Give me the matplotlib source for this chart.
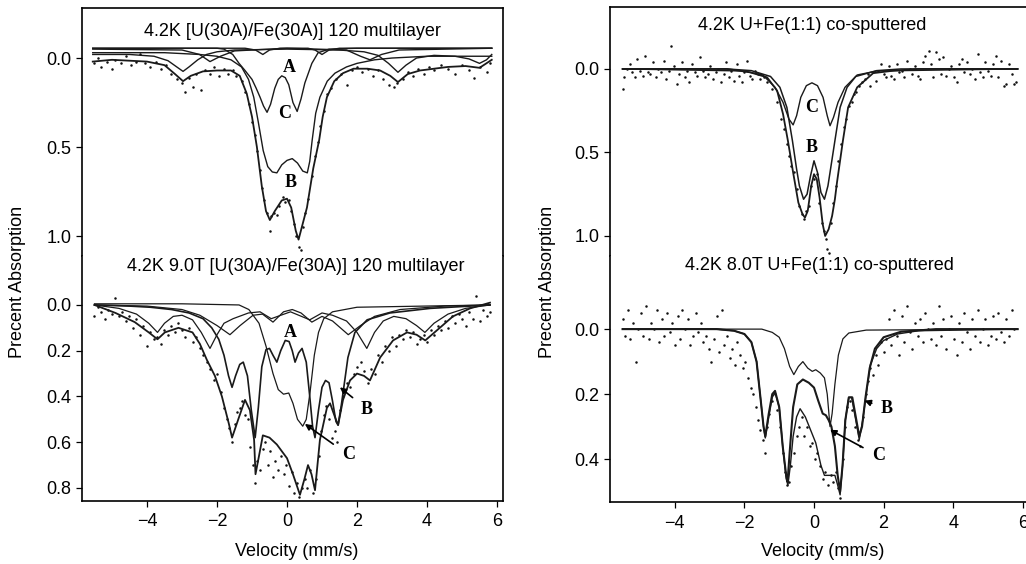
import matplotlib.pyplot as plt

plt.rcParams['font.family'] = ['Liberation Sans', 'DejaVu Sans']

# ---------- top left : 4.2K [U(30A)/Fe(30A)] 120 multilayer ----------
tl_total = [(-5.55, 0.02), (-5.0, 0.01), (-4.5, 0.015), (-4.0, 0.02), (-3.5, 0.04), (-3.2, 0.09),
            (-2.97, 0.13), (-2.75, 0.1), (-2.4, 0.075), (-2.0, 0.07), (-1.6, 0.07), (-1.35, 0.1),
            (-1.15, 0.2), (-1.0, 0.33), (-0.86, 0.5), (-0.72, 0.72), (-0.6, 0.86), (-0.49, 0.91),
            (-0.35, 0.86), (-0.15, 0.8), (0.0, 0.79), (0.12, 0.84), (0.25, 0.97), (0.33, 1.02),
            (0.45, 0.93), (0.57, 0.84), (0.75, 0.62), (0.92, 0.46), (1.02, 0.33), (1.14, 0.22),
            (1.35, 0.13), (1.6, 0.085), (1.9, 0.06), (2.3, 0.06), (2.66, 0.07), (2.95, 0.1),
            (3.17, 0.135), (3.45, 0.09), (3.8, 0.07), (4.6, 0.05), (5.1, 0.045), (5.5, 0.055),
            (5.85, 0.01)]
tl_b = [(-5.55, -0.03), (-3.5, -0.03), (-2.5, -0.02), (-2.0, -0.01), (-1.6, 0.01), (-1.3, 0.05),
        (-1.1, 0.12), (-0.95, 0.22), (-0.82, 0.36), (-0.68, 0.52), (-0.55, 0.61), (-0.42, 0.64),
        (-0.29, 0.645), (-0.15, 0.6), (0.0, 0.575), (0.15, 0.565), (0.3, 0.59), (0.45, 0.635),
        (0.58, 0.645), (0.65, 0.58), (0.72, 0.46), (0.82, 0.31), (0.94, 0.22), (1.15, 0.13),
        (1.37, 0.085), (1.7, 0.05), (2.0, 0.03), (2.5, 0.01), (3.0, 0.0), (4.0, -0.01), (5.85, -0.01)]
tl_c = [(-5.55, -0.055), (-2.0, -0.055), (-1.8, -0.05), (-1.55, -0.02), (-1.37, 0.03), (-1.2, 0.07),
        (-1.0, 0.12), (-0.88, 0.17), (-0.77, 0.22), (-0.67, 0.27), (-0.57, 0.305), (-0.47, 0.26),
        (-0.35, 0.17), (-0.25, 0.12), (-0.15, 0.1), (-0.05, 0.11), (0.05, 0.15), (0.17, 0.25),
        (0.29, 0.3), (0.4, 0.23), (0.51, 0.14), (0.71, 0.03), (0.89, -0.03), (1.2, -0.05),
        (2.0, -0.055), (5.85, -0.055)]
tl_a = [(-5.55, -0.055), (-1.2, -0.055), (-0.9, -0.045), (-0.69, -0.02), (-0.5, -0.045),
        (-0.2, -0.055), (0.6, -0.055), (0.8, -0.045), (1.0, -0.02), (1.2, -0.045), (1.5, -0.055),
        (5.85, -0.055)]
tl_s1 = [(-5.55, -0.02), (-4.5, -0.02), (-3.8, -0.01), (-3.4, 0.015), (-3.15, 0.05), (-2.97, 0.075),
         (-2.8, 0.05), (-2.55, 0.01), (-2.3, -0.02), (-2.0, -0.035), (-1.5, -0.045), (0.0, -0.05),
         (1.5, -0.045), (2.2, -0.035), (2.6, -0.015), (2.9, 0.03), (3.17, 0.08), (3.4, 0.04),
         (3.7, 0.0), (4.2, -0.015), (4.8, -0.01), (5.2, 0.005), (5.5, 0.03), (5.7, 0.01), (5.85, -0.02)]
tl_s2 = [(-5.55, -0.05), (-3.0, -0.045), (-2.5, -0.02), (-2.2, 0.02), (-1.9, -0.01), (-1.5, -0.04),
         (0.0, -0.055), (1.7, -0.045), (2.1, -0.01), (2.37, 0.01), (2.7, -0.02), (3.2, -0.045),
         (5.85, -0.055)]
tl_dots = [(-5.5, 0.03), (-5.4, 0.0), (-5.3, 0.05), (-5.15, 0.02), (-5.0, 0.06), (-4.9, 0.01),
           (-4.75, 0.03), (-4.6, -0.01), (-4.45, 0.04), (-4.3, 0.02), (-4.2, -0.02), (-4.05, 0.03),
           (-3.9, 0.05), (-3.75, 0.02), (-3.6, 0.06), (-3.45, 0.04), (-3.3, 0.09), (-3.15, 0.12),
           (-3.0, 0.14), (-2.9, 0.19), (-2.8, 0.11), (-2.7, 0.16), (-2.6, 0.09), (-2.45, 0.18),
           (-2.35, 0.07), (-2.2, 0.09), (-2.1, 0.05), (-1.95, 0.1), (-1.8, 0.06), (-1.7, 0.09),
           (-1.55, 0.07), (-1.45, 0.1), (-1.3, 0.13), (-1.2, 0.19), (-1.1, 0.26), (-1.0, 0.36),
           (-0.92, 0.43), (-0.85, 0.52), (-0.78, 0.63), (-0.72, 0.73), (-0.65, 0.8), (-0.58, 0.87),
           (-0.5, 0.97), (-0.45, 0.89), (-0.38, 0.87), (-0.3, 0.88), (-0.22, 0.83), (-0.12, 0.78),
           (-0.05, 0.81), (0.05, 0.8), (0.12, 0.86), (0.2, 0.93), (0.27, 1.0), (0.33, 1.06),
           (0.4, 1.08), (0.45, 0.95), (0.52, 0.87), (0.6, 0.79), (0.7, 0.66), (0.8, 0.55),
           (0.88, 0.47), (0.95, 0.38), (1.05, 0.3), (1.15, 0.2), (1.25, 0.17), (1.4, 0.12),
           (1.55, 0.09), (1.7, 0.15), (1.85, 0.07), (2.0, 0.05), (2.15, 0.08), (2.3, 0.06),
           (2.45, 0.1), (2.6, 0.07), (2.75, 0.12), (2.9, 0.15), (3.05, 0.16), (3.15, 0.14),
           (3.3, 0.12), (3.45, 0.08), (3.6, 0.1), (3.75, 0.06), (3.9, 0.09), (4.05, 0.05),
           (4.2, 0.07), (4.4, 0.04), (4.6, 0.06), (4.8, 0.09), (5.0, 0.04), (5.2, 0.07),
           (5.35, 0.11), (5.5, 0.05), (5.7, 0.08), (5.8, 0.03)]

# ---------- bottom left : 4.2K 9.0T multilayer ----------
bl_total = [(-5.5, 0.0), (-4.9, 0.035), (-4.35, 0.075), (-3.95, 0.12), (-3.7, 0.15), (-3.49, 0.12),
            (-3.1, 0.1), (-2.7, 0.12), (-2.49, 0.17), (-2.29, 0.24), (-2.06, 0.31), (-1.86, 0.4),
            (-1.66, 0.52), (-1.57, 0.58), (-1.37, 0.49), (-1.2, 0.415), (-1.06, 0.46), (-0.94, 0.59),
            (-0.9, 0.74), (-0.8, 0.66), (-0.69, 0.57), (-0.5, 0.58), (-0.29, 0.61), (0.0, 0.67),
            (0.17, 0.74), (0.37, 0.83), (0.5, 0.76), (0.6, 0.7), (0.7, 0.74), (0.8, 0.81),
            (0.94, 0.59), (1.14, 0.45), (1.23, 0.43), (1.37, 0.49), (1.46, 0.525), (1.6, 0.415),
            (1.8, 0.33), (2.0, 0.3), (2.2, 0.31), (2.37, 0.33), (2.66, 0.23), (3.03, 0.155),
            (3.43, 0.12), (3.7, 0.13), (3.95, 0.155), (4.29, 0.11), (4.74, 0.05), (5.23, 0.015),
            (5.8, -0.01)]
bl_b = [(-5.5, 0.0), (-4.5, 0.005), (-3.9, 0.01), (-3.3, 0.02), (-2.8, 0.035), (-2.4, 0.06),
        (-2.15, 0.1), (-1.95, 0.15), (-1.8, 0.22), (-1.67, 0.31), (-1.57, 0.36), (-1.47, 0.31),
        (-1.35, 0.26), (-1.25, 0.25), (-1.13, 0.31), (-1.02, 0.46), (-0.91, 0.58), (-0.82, 0.45),
        (-0.72, 0.27), (-0.6, 0.195), (-0.5, 0.19), (-0.4, 0.22), (-0.29, 0.25), (-0.18, 0.2),
        (-0.05, 0.155), (0.06, 0.16), (0.15, 0.2), (0.23, 0.25), (0.33, 0.21), (0.43, 0.19),
        (0.55, 0.25), (0.65, 0.4), (0.73, 0.53), (0.8, 0.58), (0.9, 0.46), (1.0, 0.36), (1.1, 0.33),
        (1.2, 0.34), (1.3, 0.42), (1.4, 0.51), (1.46, 0.525), (1.55, 0.44), (1.65, 0.33),
        (1.74, 0.23), (1.94, 0.12), (2.29, 0.065), (2.94, 0.035), (4.09, 0.015), (5.8, 0.0)]
bl_c = [(-5.5, -0.005), (-3.0, -0.005), (-1.37, 0.0), (-1.09, 0.02), (-0.8, 0.08), (-0.6, 0.18),
        (-0.4, 0.3), (-0.25, 0.37), (-0.1, 0.39), (0.05, 0.385), (0.17, 0.43), (0.3, 0.5),
        (0.45, 0.53), (0.55, 0.5), (0.66, 0.38), (0.78, 0.22), (0.9, 0.12), (1.05, 0.06),
        (1.3, 0.03), (2.0, 0.01), (5.8, 0.0)]
bl_d = [(-5.5, 0.0), (-4.8, 0.015), (-4.3, 0.04), (-3.95, 0.08), (-3.7, 0.12), (-3.5, 0.08),
        (-3.25, 0.05), (-3.0, 0.045), (-2.7, 0.065), (-2.45, 0.12), (-2.2, 0.19), (-2.0, 0.13),
        (-1.8, 0.08), (-1.54, 0.06), (-1.1, 0.035), (-0.77, 0.03), (-0.45, 0.06), (0.1, 0.03),
        (0.65, 0.065), (1.0, 0.035), (1.3, 0.045), (1.7, 0.07), (2.0, 0.12), (2.28, 0.19),
        (2.5, 0.12), (2.75, 0.07), (3.05, 0.05), (3.4, 0.06), (3.7, 0.09), (3.94, 0.12),
        (4.2, 0.08), (4.6, 0.04), (5.1, 0.015), (5.8, 0.0)]
bl_a = [(-5.5, 0.0), (-4.0, 0.005), (-3.0, 0.02), (-2.49, 0.045), (-2.0, 0.09), (-1.63, 0.13),
        (-1.34, 0.09), (-0.97, 0.045), (-0.7, 0.04), (-0.4, 0.075), (-0.1, 0.03), (0.15, 0.02),
        (0.4, 0.035), (0.71, 0.075), (1.0, 0.05), (1.3, 0.07), (1.75, 0.13), (2.1, 0.09),
        (2.5, 0.05), (3.23, 0.02), (4.5, 0.005), (5.8, 0.0)]
bl_dots = [(-5.5, 0.05), (-5.4, 0.01), (-5.3, 0.03), (-5.2, 0.06), (-5.1, 0.02), (-5.0, 0.04),
           (-4.9, -0.03), (-4.8, 0.05), (-4.7, 0.03), (-4.6, 0.07), (-4.5, 0.05), (-4.4, 0.1),
           (-4.3, 0.06), (-4.2, 0.13), (-4.1, 0.09), (-4.0, 0.18), (-3.9, 0.12), (-3.8, 0.15),
           (-3.7, 0.14), (-3.6, 0.17), (-3.5, 0.11), (-3.4, 0.13), (-3.3, 0.09), (-3.2, 0.12),
           (-3.1, 0.08), (-3.0, 0.11), (-2.9, 0.14), (-2.8, 0.1), (-2.7, 0.16), (-2.6, 0.14),
           (-2.5, 0.19), (-2.4, 0.22), (-2.3, 0.25), (-2.2, 0.28), (-2.1, 0.33), (-2.0, 0.3),
           (-1.9, 0.38), (-1.8, 0.45), (-1.72, 0.5), (-1.65, 0.54), (-1.57, 0.6), (-1.5, 0.52),
           (-1.42, 0.47), (-1.35, 0.45), (-1.28, 0.42), (-1.2, 0.48), (-1.12, 0.5), (-1.05, 0.62),
           (-0.98, 0.7), (-0.92, 0.78), (-0.85, 0.68), (-0.78, 0.72), (-0.7, 0.63), (-0.62, 0.6),
           (-0.55, 0.7), (-0.48, 0.64), (-0.4, 0.75), (-0.33, 0.68), (-0.25, 0.72), (-0.18, 0.66),
           (-0.1, 0.74), (-0.02, 0.7), (0.06, 0.79), (0.14, 0.73), (0.2, 0.82), (0.28, 0.78),
           (0.35, 0.84), (0.42, 0.8), (0.5, 0.76), (0.58, 0.8), (0.66, 0.72), (0.74, 0.82),
           (0.82, 0.76), (0.9, 0.66), (0.98, 0.55), (1.05, 0.48), (1.12, 0.44), (1.2, 0.5),
           (1.28, 0.58), (1.36, 0.55), (1.44, 0.6), (1.52, 0.46), (1.6, 0.4), (1.7, 0.34),
           (1.8, 0.36), (1.9, 0.3), (2.0, 0.27), (2.1, 0.25), (2.2, 0.29), (2.3, 0.34), (2.4, 0.28),
           (2.5, 0.3), (2.6, 0.22), (2.7, 0.25), (2.8, 0.18), (2.9, 0.2), (3.0, 0.14), (3.1, 0.18),
           (3.2, 0.13), (3.3, 0.15), (3.4, 0.11), (3.5, 0.14), (3.6, 0.12), (3.7, 0.17), (3.8, 0.15),
           (3.9, 0.13), (4.0, 0.16), (4.1, 0.11), (4.2, 0.13), (4.3, 0.09), (4.4, 0.11), (4.5, 0.07),
           (4.6, 0.1), (4.7, 0.05), (4.8, 0.08), (4.9, 0.04), (5.0, 0.06), (5.1, 0.09), (5.2, 0.03),
           (5.3, 0.06), (5.4, -0.04), (5.5, 0.07), (5.6, 0.02), (5.7, 0.05), (5.8, 0.03)]

# ---------- top right : 4.2K U+Fe(1:1) co-sputtered ----------
tr_total = [(-5.5, 0.0), (-2.5, 0.0), (-1.84, 0.02), (-1.35, 0.05), (-1.06, 0.13), (-0.89, 0.27),
            (-0.75, 0.43), (-0.6, 0.62), (-0.45, 0.8), (-0.33, 0.87), (-0.26, 0.89), (-0.18, 0.85),
            (-0.08, 0.7), (0.0, 0.63), (0.08, 0.66), (0.16, 0.77), (0.25, 0.93), (0.32, 1.0),
            (0.42, 0.96), (0.52, 0.88), (0.6, 0.78), (0.66, 0.68), (0.83, 0.43), (0.98, 0.23),
            (1.24, 0.11), (1.7, 0.025), (2.3, 0.01), (3.0, 0.0), (5.85, 0.0)]
tr_b = [(-5.5, 0.0), (-2.5, 0.0), (-1.8, 0.01), (-1.25, 0.045), (-0.98, 0.11), (-0.78, 0.23),
        (-0.62, 0.43), (-0.5, 0.6), (-0.42, 0.7), (-0.3, 0.78), (-0.2, 0.75), (-0.1, 0.64),
        (0.0, 0.55), (0.1, 0.62), (0.2, 0.74), (0.3, 0.78), (0.4, 0.7), (0.46, 0.62), (0.6, 0.43),
        (0.75, 0.23), (0.95, 0.11), (1.2, 0.045), (1.8, 0.01), (2.5, 0.0), (5.85, 0.0)]
tr_c = [(-5.5, 0.0), (-2.04, 0.012), (-1.47, 0.036), (-1.12, 0.11), (-0.89, 0.2), (-0.72, 0.3),
        (-0.6, 0.335), (-0.5, 0.28), (-0.38, 0.17), (-0.22, 0.1), (-0.06, 0.083), (0.1, 0.1),
        (0.26, 0.17), (0.38, 0.28), (0.46, 0.34), (0.56, 0.29), (0.69, 0.2), (0.89, 0.11),
        (1.24, 0.036), (1.81, 0.012), (5.85, 0.0)]
tr_dots = [(-5.5, 0.12), (-5.45, 0.05), (-5.38, 0.0), (-5.3, -0.03), (-5.22, 0.02), (-5.15, 0.05),
           (-5.08, -0.06), (-5.0, 0.01), (-4.92, 0.04), (-4.85, -0.08), (-4.78, 0.02), (-4.7, 0.03),
           (-4.62, -0.04), (-4.55, 0.05), (-4.48, 0.0), (-4.4, 0.02), (-4.32, -0.05), (-4.25, 0.06),
           (-4.18, 0.01), (-4.1, -0.14), (-4.02, -0.02), (-3.95, 0.09), (-3.88, 0.03), (-3.8, -0.04),
           (-3.72, 0.05), (-3.65, 0.01), (-3.58, 0.08), (-3.5, -0.03), (-3.42, 0.02), (-3.35, 0.04),
           (-3.28, -0.07), (-3.2, 0.01), (-3.12, 0.05), (-3.05, 0.03), (-2.98, -0.02), (-2.9, 0.06),
           (-2.82, 0.02), (-2.75, 0.0), (-2.68, 0.08), (-2.6, 0.03), (-2.52, -0.04), (-2.45, 0.05),
           (-2.38, 0.01), (-2.3, 0.07), (-2.22, -0.03), (-2.15, 0.04), (-2.08, 0.08), (-2.0, 0.02),
           (-1.92, -0.05), (-1.85, 0.04), (-1.78, 0.06), (-1.7, 0.01), (-1.62, 0.03), (-1.55, 0.06),
           (-1.45, 0.05), (-1.35, 0.08), (-1.2, 0.12), (-1.05, 0.2), (-0.95, 0.3), (-0.85, 0.36),
           (-0.78, 0.45), (-0.72, 0.52), (-0.65, 0.58), (-0.58, 0.62), (-0.5, 0.72), (-0.42, 0.82),
           (-0.35, 0.87), (-0.28, 0.9), (-0.22, 0.85), (-0.15, 0.82), (-0.08, 0.7), (0.0, 0.66),
           (0.08, 0.63), (0.15, 0.8), (0.22, 0.92), (0.28, 0.97), (0.35, 1.02), (0.38, 1.08),
           (0.42, 1.1), (0.48, 0.92), (0.55, 0.8), (0.62, 0.7), (0.7, 0.55), (0.78, 0.45),
           (0.85, 0.35), (0.92, 0.3), (1.0, 0.22), (1.08, 0.2), (1.15, 0.15), (1.22, 0.14),
           (1.3, 0.1), (1.38, 0.08), (1.46, 0.06), (1.55, 0.03), (1.62, 0.1), (1.7, 0.02),
           (1.78, 0.07), (1.85, 0.01), (1.92, -0.03), (2.0, 0.03), (2.08, 0.05), (2.15, -0.02),
           (2.22, 0.04), (2.3, 0.06), (2.38, -0.03), (2.45, 0.02), (2.52, 0.01), (2.6, 0.05),
           (2.68, -0.05), (2.75, 0.0), (2.82, 0.03), (2.9, -0.02), (2.98, 0.04), (3.05, 0.06),
           (3.12, -0.04), (3.2, -0.08), (3.3, -0.11), (3.35, -0.03), (3.42, 0.05), (3.5, -0.1),
           (3.58, -0.06), (3.65, 0.03), (3.72, -0.07), (3.8, 0.04), (3.88, 0.0), (3.95, -0.02),
           (4.02, 0.05), (4.1, 0.08), (4.18, -0.03), (4.25, -0.06), (4.32, 0.02), (4.4, -0.04),
           (4.48, 0.03), (4.55, 0.0), (4.62, 0.06), (4.7, -0.09), (4.78, 0.02), (4.85, 0.05),
           (4.92, -0.04), (5.0, 0.01), (5.08, 0.04), (5.15, -0.03), (5.22, -0.08), (5.3, 0.05),
           (5.38, -0.05), (5.45, 0.1), (5.52, 0.09), (5.6, -0.03), (5.68, 0.03), (5.75, 0.09),
           (5.8, 0.08)]

# ---------- bottom right : 4.2K 8.0T U+Fe(1:1) co-sputtered ----------
br_total = [(-5.5, 0.0), (-2.8, 0.0), (-2.3, 0.005), (-2.0, 0.015), (-1.8, 0.04), (-1.65, 0.1),
            (-1.55, 0.2), (-1.45, 0.3), (-1.4, 0.335), (-1.3, 0.27), (-1.2, 0.21), (-1.12, 0.195),
            (-1.0, 0.24), (-0.9, 0.36), (-0.8, 0.46), (-0.75, 0.48), (-0.68, 0.42), (-0.6, 0.33),
            (-0.5, 0.27), (-0.4, 0.245), (-0.25, 0.27), (-0.1, 0.31), (0.05, 0.35), (0.2, 0.42),
            (0.3, 0.45), (0.45, 0.45), (0.6, 0.45), (0.68, 0.48), (0.75, 0.51), (0.82, 0.42),
            (0.9, 0.28), (1.0, 0.21), (1.08, 0.21), (1.2, 0.28), (1.3, 0.34), (1.4, 0.28),
            (1.5, 0.2), (1.62, 0.11), (1.8, 0.06), (2.0, 0.035), (2.4, 0.015), (3.0, 0.005),
            (5.85, 0.0)]
br_b = [(-5.5, 0.0), (-2.8, 0.0), (-2.3, 0.005), (-2.0, 0.015), (-1.8, 0.04), (-1.65, 0.1),
        (-1.55, 0.2), (-1.45, 0.3), (-1.4, 0.33), (-1.3, 0.26), (-1.2, 0.2), (-1.12, 0.19),
        (-1.0, 0.24), (-0.9, 0.36), (-0.8, 0.45), (-0.76, 0.47), (-0.7, 0.38), (-0.6, 0.24),
        (-0.48, 0.17), (-0.32, 0.155), (-0.15, 0.165), (0.0, 0.18), (0.12, 0.22), (0.25, 0.26),
        (0.34, 0.265), (0.42, 0.28), (0.5, 0.3), (0.6, 0.36), (0.68, 0.45), (0.75, 0.5),
        (0.82, 0.42), (0.9, 0.28), (1.0, 0.21), (1.1, 0.21), (1.2, 0.27), (1.3, 0.33), (1.38, 0.3),
        (1.48, 0.21), (1.6, 0.12), (1.75, 0.06), (2.0, 0.025), (2.5, 0.008), (3.5, 0.0), (5.85, 0.0)]
br_c = [(-5.5, 0.0), (-1.5, 0.0), (-1.2, 0.01), (-1.0, 0.025), (-0.85, 0.06), (-0.7, 0.115),
        (-0.58, 0.14), (-0.45, 0.115), (-0.32, 0.1), (-0.18, 0.12), (-0.05, 0.13), (0.05, 0.125),
        (0.18, 0.135), (0.3, 0.15), (0.38, 0.2), (0.46, 0.3), (0.52, 0.26), (0.6, 0.17),
        (0.7, 0.08), (0.83, 0.03), (1.0, 0.012), (1.5, 0.003), (5.85, 0.0)]
br_dots = [(-5.5, -0.03), (-5.42, 0.02), (-5.35, -0.06), (-5.28, 0.03), (-5.2, -0.02), (-5.12, 0.1),
           (-5.05, 0.0), (-4.98, -0.05), (-4.9, 0.02), (-4.82, -0.07), (-4.75, 0.03), (-4.68, -0.02),
           (-4.6, 0.0), (-4.52, -0.06), (-4.45, 0.04), (-4.38, -0.03), (-4.3, 0.02), (-4.22, -0.05),
           (-4.15, 0.01), (-4.08, -0.02), (-4.0, 0.05), (-3.92, -0.04), (-3.85, 0.03), (-3.78, -0.06),
           (-3.7, 0.0), (-3.62, -0.03), (-3.55, 0.05), (-3.48, 0.02), (-3.4, -0.05), (-3.32, 0.01),
           (-3.25, -0.02), (-3.18, 0.04), (-3.1, 0.02), (-3.02, 0.06), (-2.95, 0.1), (-2.88, 0.03),
           (-2.8, -0.04), (-2.72, 0.07), (-2.65, -0.06), (-2.58, 0.05), (-2.5, 0.02), (-2.42, 0.09),
           (-2.35, 0.06), (-2.28, 0.11), (-2.2, 0.04), (-2.12, 0.08), (-2.05, 0.12), (-1.98, 0.1),
           (-1.9, 0.15), (-1.82, 0.18), (-1.75, 0.2), (-1.68, 0.24), (-1.6, 0.28), (-1.55, 0.31),
           (-1.48, 0.34), (-1.42, 0.38), (-1.35, 0.3), (-1.28, 0.26), (-1.2, 0.22), (-1.12, 0.2),
           (-1.05, 0.25), (-0.98, 0.3), (-0.9, 0.38), (-0.84, 0.44), (-0.78, 0.48), (-0.72, 0.47),
           (-0.65, 0.42), (-0.58, 0.38), (-0.5, 0.33), (-0.42, 0.3), (-0.35, 0.27), (-0.28, 0.33),
           (-0.2, 0.3), (-0.12, 0.36), (-0.05, 0.35), (0.02, 0.4), (0.1, 0.38), (0.18, 0.42),
           (0.25, 0.46), (0.32, 0.44), (0.4, 0.48), (0.48, 0.45), (0.55, 0.47), (0.62, 0.44),
           (0.68, 0.49), (0.75, 0.52), (0.82, 0.4), (0.9, 0.3), (0.96, 0.24), (1.02, 0.22),
           (1.1, 0.25), (1.18, 0.3), (1.25, 0.34), (1.32, 0.36), (1.4, 0.27), (1.48, 0.2),
           (1.55, 0.16), (1.62, 0.12), (1.7, 0.14), (1.78, 0.08), (1.85, 0.11), (1.92, 0.04),
           (2.0, 0.07), (2.08, 0.03), (2.15, -0.03), (2.22, 0.05), (2.3, -0.06), (2.38, 0.02),
           (2.45, 0.08), (2.52, -0.04), (2.6, 0.04), (2.68, -0.07), (2.75, 0.01), (2.82, 0.06),
           (2.9, -0.02), (2.98, 0.02), (3.05, -0.03), (3.12, 0.04), (3.2, -0.05), (3.28, 0.0),
           (3.35, 0.03), (3.42, -0.02), (3.5, 0.05), (3.58, -0.07), (3.65, 0.02), (3.72, -0.03),
           (3.8, 0.06), (3.88, 0.0), (3.95, -0.04), (4.02, 0.03), (4.1, 0.08), (4.18, -0.02),
           (4.25, 0.04), (4.32, -0.05), (4.4, 0.01), (4.48, 0.06), (4.55, -0.03), (4.62, 0.02),
           (4.7, -0.06), (4.78, 0.04), (4.85, 0.0), (4.92, -0.03), (5.0, 0.05), (5.08, 0.02),
           (5.15, -0.04), (5.22, 0.03), (5.3, -0.05), (5.38, 0.01), (5.45, 0.04), (5.52, -0.03),
           (5.6, 0.02), (5.68, -0.06), (5.75, 0.0)]

W, H = 1026, 564
FS = 13
LBL = dict(family='Liberation Serif', fontweight='bold', fontsize=13)
ARROW = dict(arrowstyle='-|>', color='k', lw=1.2, mutation_scale=9, shrinkA=5, shrinkB=0)


def px_axes(fig, x0, x1, y0, y1):
    return fig.add_axes([x0 / W, 1 - y1 / H, (x1 - x0) / W, (y1 - y0) / H])


def curve(ax, pts, lw=1.1):
    xs, ys = zip(*pts)
    ax.plot(xs, ys, color='#1a1a1a', lw=lw, solid_joinstyle='round')


def dots(ax, pts):
    xs, ys = zip(*pts)
    ax.plot(xs, ys, 'o', ms=1.8, mec='none', mfc='#111111')


def style(ax, xlim, ylim, yticks, part):
    ax.set_xlim(*xlim)
    ax.set_ylim(*ylim)
    ax.set_yticks(yticks)
    ax.set_yticklabels(['%.1f' % t for t in yticks])
    ax.tick_params(direction='out', length=4, width=0.9, labelsize=FS, right=False, top=False)
    ax.tick_params(axis='x', pad=5)
    for s in ax.spines.values():
        s.set_linewidth(1.2)
    if part == 'top':
        ax.spines['bottom'].set_visible(False)
        ax.set_xticks([])
    else:
        ax.spines['top'].set_visible(False)
        ax.set_xticks([-4, -2, 0, 2, 4, 6])


fig = plt.figure(figsize=(W / 100, H / 100), dpi=100)

# left panel
ax1 = px_axes(fig, 82, 503, 8, 256)
style(ax1, (-5.857, 6.171), (1.112, -0.281), [0.0, 0.5, 1.0], 'top')
dots(ax1, tl_dots)
for c in (tl_a, tl_s1, tl_s2, tl_c, tl_b):
    curve(ax1, c, 1.0)
curve(ax1, tl_total, 1.3)
ax1.text(0.07, 0.055, 'A', ha='center', va='center', **LBL)
ax1.text(-0.06, 0.31, 'C', ha='center', va='center', **LBL)
ax1.text(0.09, 0.70, 'B', ha='center', va='center', **LBL)

ax2 = px_axes(fig, 82, 503, 256, 501)
style(ax2, (-5.857, 6.171), (0.857, -0.214), [0.0, 0.2, 0.4, 0.6, 0.8], 'bottom')
dots(ax2, bl_dots)
for c in (bl_c, bl_a, bl_d):
    curve(ax2, c, 0.9)
curve(ax2, bl_b, 1.2)
curve(ax2, bl_total, 1.3)
ax2.text(0.09, 0.12, 'A', ha='center', va='center', **LBL)
ax2.annotate('B', xy=(1.51, 0.36), xytext=(2.28, 0.455), ha='center', va='center',
             arrowprops=ARROW, **LBL)
ax2.annotate('C', xy=(0.51, 0.52), xytext=(1.75, 0.655), ha='center', va='center',
             arrowprops=ARROW, **LBL)

# right panel
ax3 = px_axes(fig, 610, 1027, 7, 256)
style(ax3, (-5.862, 6.12), (1.12, -0.371), [0.0, 0.5, 1.0], 'top')
dots(ax3, tr_dots)
curve(ax3, tr_c, 1.0)
curve(ax3, tr_b, 1.1)
curve(ax3, tr_total, 1.3)
ax3.text(-0.08, 0.23, 'C', ha='center', va='center', **LBL)
ax3.text(-0.08, 0.47, 'B', ha='center', va='center', **LBL)

ax4 = px_axes(fig, 610, 1027, 256, 502)
style(ax4, (-5.862, 6.12), (0.532, -0.225), [0.0, 0.2, 0.4], 'bottom')
dots(ax4, br_dots)
curve(ax4, br_c, 0.9)
curve(ax4, br_total, 1.0)
curve(ax4, br_b, 1.5)
ax4.annotate('B', xy=(1.45, 0.22), xytext=(2.1, 0.245), ha='center', va='center',
             arrowprops=ARROW, **LBL)
ax4.annotate('C', xy=(0.46, 0.31), xytext=(1.85, 0.39), ha='center', va='center',
             arrowprops=ARROW, **LBL)

# titles and axis labels
fig.text(292 / W, 1 - 31 / H, '4.2K [U(30A)/Fe(30A)] 120 multilayer', ha='center', va='center', fontsize=FS)
fig.text(296 / W, 1 - 267 / H, '4.2K 9.0T [U(30A)/Fe(30A)] 120 multilayer', ha='center', va='center', fontsize=FS)
fig.text(812 / W, 1 - 25 / H, '4.2K U+Fe(1:1) co-sputtered', ha='center', va='center', fontsize=FS)
fig.text(819 / W, 1 - 265 / H, '4.2K 8.0T U+Fe(1:1) co-sputtered', ha='center', va='center', fontsize=FS)
fig.text(18 / W, 0.5, 'Precent Absorption', rotation=90, ha='center', va='center', fontsize=FS)
fig.text(548 / W, 0.5, 'Precent Absorption', rotation=90, ha='center', va='center', fontsize=FS)
fig.text(297 / W, 1 - 552 / H, 'Velocity (mm/s)', ha='center', va='center', fontsize=FS)
fig.text(823 / W, 1 - 552 / H, 'Velocity (mm/s)', ha='center', va='center', fontsize=FS)

fig.savefig('out.png', dpi=100)
